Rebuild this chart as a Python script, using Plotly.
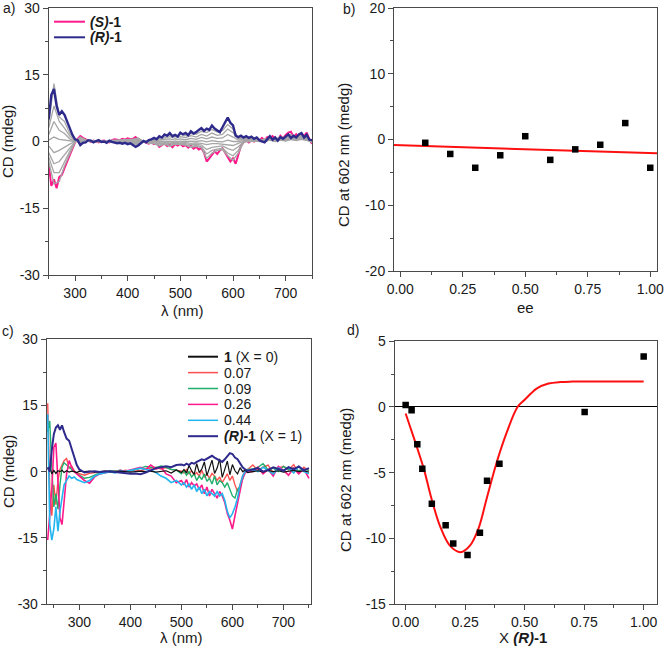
import plotly.graph_objects as go

# ---------------- DATA ----------------
# Panel a: CD spectra of (S)-1, (R)-1 and intermediate ee mixtures (grey)
wl_a = list(range(250, 755, 5))
cd_S = [-5.0, -10.0, -8.5, -10.5, -8.0, -7.5, -6.0, -4.5, -3.0, -1.5,
        -0.2, 0.6, 1.2, 0.8, 0.5, 0.3, -0.1, 0.2, 0.0, -0.2,
        0.1, 0.2, 0.0, -0.2, 0.3, 0.5, 0.4, 0.3, 0.6, 0.4,
        0.7, 0.5, 0.6, 1.0, 0.4, 0.2, 0.0, -0.3, -0.5, -0.2,
        -0.6, -0.4, -1.2, -0.8, -0.5, -1.0, -0.7, -1.3, -0.6, -0.9,
        -0.5, -1.1, -0.8, -1.4, -0.9, -1.6, -1.2, -1.8, -1.5, -2.5,
        -4.5, -3.8, -3.0, -2.2, -2.8, -2.0, -1.5, -2.6, -3.5, -4.5,
        -3.8, -5.0, -3.0, -1.0, -0.2, 0.3, -0.2, 0.3, 0.0, 0.5,
        0.2, 0.8, 0.3, 1.0, 0.5, 1.2, 0.8, 0.3, 1.3, 0.7,
        1.5, 2.0, 2.2, 1.0, 1.6, 0.8, 1.8, 1.2, 2.0, 0.5,
        -0.5]
cd_R = [5.0, 10.5, 11.8, 8.0, 6.0, 6.8, 6.0, 4.5, 3.0, 1.5,
        0.5, 0.3, -0.8, -0.3, -0.2, 0.3, 0.2, -0.2, 0.1, 0.3,
        -0.1, 0.0, -0.3, 0.2, -0.1, -0.2, -0.4, -0.3, -0.5, -0.3,
        -0.6, -0.4, -0.8, -1.2, -0.9, -0.5, 0.1, -0.2, 0.3, 0.5,
        0.8, 0.5, 1.2, 0.9, 1.6, 1.3, 1.9, 1.2, 1.5, 1.1,
        2.0, 1.6, 1.9, 1.4, 2.3, 1.8, 2.1, 2.6, 3.0, 2.4,
        2.9, 2.6, 3.6, 2.9, 2.4, 2.1, 3.2, 4.5, 5.4, 4.2,
        3.6, 1.3, 1.0, 1.3, 0.9, 1.2, 0.8, 1.1, 0.6, 0.9,
        0.3, 0.0, -0.2, 0.5, 1.2, 0.4, 0.9, 0.2, 1.0, 0.6,
        1.1, 1.6, 0.8, 1.3, 0.9, 1.6, 1.9, 0.9, 1.5, 0.4,
        0.3]

wl_grey = list(range(250, 760, 10))
grey_1 = [4.0, 13.0, 5.5, 4.5, 1.8, 0.3, -0.5, 0.0, 0.2, 0.1,
          0.0, -0.2, 0.1, -0.1, -0.3, -0.3, -0.5, -0.7, -0.1, 0.2,
          0.5, 1.0, 1.2, 1.5, 1.1, 1.6, 1.4, 1.8, 1.6, 2.3,
          2.0, 2.7, 2.1, 2.5, 3.8, 2.8, 0.8, 1.0, 0.6, 0.8,
          0.4, 0.1, 0.8, 0.3, 1.0, 0.5, 1.2, 0.8, 1.5, 0.7,
          0.3]
grey_2 = [3.0, 8.0, 4.5, 3.0, 1.2, 0.2, -0.3, 0.1, 0.2, 0.0,
          0.1, -0.1, 0.0, -0.1, -0.2, -0.2, -0.3, -0.5, 0.0, 0.1,
          0.4, 0.7, 0.8, 1.1, 0.7, 1.1, 0.9, 1.3, 1.0, 1.6,
          1.2, 1.9, 1.4, 1.6, 2.8, 2.0, 0.6, 0.8, 0.4, 0.6,
          0.2, 0.0, 0.6, 0.2, 0.8, 0.4, 1.0, 0.6, 1.2, 0.5,
          0.2]
grey_3 = [1.5, 4.5, 2.5, 1.8, 0.6, 0.1, -0.1, 0.1, 0.1, 0.0,
          0.0, -0.1, 0.1, 0.0, -0.1, -0.1, -0.2, -0.2, 0.0, 0.0,
          0.2, 0.3, 0.5, 0.6, 0.3, 0.6, 0.4, 0.7, 0.5, 0.9,
          0.6, 1.0, 0.7, 0.8, 1.6, 1.0, 0.3, 0.5, 0.2, 0.4,
          0.1, 0.0, 0.4, 0.1, 0.5, 0.2, 0.7, 0.4, 0.8, 0.3,
          0.1]
grey_4 = [0.3, 1.0, 0.5, 0.3, 0.1, 0.0, 0.0, 0.1, 0.0, 0.0,
          0.1, 0.0, 0.1, 0.0, 0.0, 0.0, 0.0, 0.0, 0.0, 0.0,
          0.0, 0.0, 0.1, 0.1, -0.1, 0.1, 0.0, 0.1, 0.0, 0.2,
          -0.1, 0.2, 0.0, -0.1, 0.3, 0.0, 0.0, 0.2, 0.0, 0.2,
          0.0, 0.0, 0.3, 0.0, 0.3, 0.1, 0.5, 0.2, 0.5, 0.2,
          0.0]
grey_5 = [-1.0, -2.5, -2.0, -1.2, -0.6, 0.0, 0.2, 0.1, 0.0, 0.0,
          0.0, 0.0, 0.1, 0.1, 0.1, 0.1, 0.1, 0.2, 0.0, -0.1,
          -0.1, -0.2, -0.1, -0.3, -0.2, -0.3, -0.2, -0.4, -0.3, -0.4,
          -0.7, -0.5, -0.5, -0.6, -0.7, -0.9, -0.4, 0.0, 0.0, 0.1,
          0.1, 0.2, 0.3, 0.1, 0.4, 0.2, 0.5, 0.3, 0.6, 0.3,
          0.0]
grey_6 = [-2.5, -5.0, -4.5, -3.0, -1.4, 0.0, 0.4, 0.2, 0.1, 0.0,
          0.0, 0.0, 0.1, 0.2, 0.2, 0.2, 0.3, 0.4, 0.0, -0.2,
          -0.3, -0.5, -0.3, -0.5, -0.4, -0.4, -0.5, -0.7, -0.6, -0.8,
          -1.8, -1.3, -1.2, -1.0, -1.6, -2.0, -1.2, -0.1, 0.1, 0.2,
          0.1, 0.3, 0.4, 0.3, 0.6, 0.4, 0.8, 0.5, 0.9, 0.4,
          -0.1]
grey_7 = [-3.5, -7.0, -7.0, -4.5, -2.2, -0.1, 0.7, 0.3, 0.0, 0.1,
          0.0, 0.1, 0.2, 0.3, 0.3, 0.3, 0.4, 0.6, 0.0, -0.3,
          -0.4, -0.8, -0.4, -0.9, -0.5, -0.5, -0.7, -1.1, -0.9, -1.2,
          -2.8, -2.0, -1.7, -1.5, -2.6, -3.2, -2.0, -0.1, 0.2, 0.3,
          0.1, 0.5, 0.6, 0.4, 0.9, 0.6, 1.1, 0.6, 1.2, 0.5,
          -0.2]
grey_8 = [-4.5, -9.5, -9.0, -5.5, -2.8, -0.1, 1.0, 0.4, 0.0, 0.1,
          0.1, 0.1, 0.3, 0.3, 0.4, 0.4, 0.5, 0.8, 0.0, -0.4,
          -0.5, -1.0, -0.6, -1.1, -0.6, -0.7, -0.8, -1.3, -1.1, -1.4,
          -3.8, -2.6, -2.0, -1.8, -3.2, -4.2, -2.6, -0.2, 0.2, 0.4,
          0.2, 0.6, 0.8, 0.5, 1.1, 0.8, 1.6, 0.8, 1.5, 0.8,
          -0.3]
grey_series = [grey_1, grey_2, grey_3, grey_4, grey_5, grey_6, grey_7, grey_8]

# Panel b: CD at 602 nm vs ee
ee_vals = [0.1, 0.2, 0.3, 0.4, 0.5, 0.6, 0.7, 0.8, 0.9, 1.0]
cd602_ee = [-0.5, -2.2, -4.3, -2.4, 0.5, -3.1, -1.5, -0.8, 2.5, -4.3]
fit_b_x = [-0.025, 1.027]
fit_b_y = [-0.85, -2.1]

# Panel c: CD spectra for mole fractions of (R)-1
wl_c = ([238, 242, 246, 250, 254, 258, 262, 266, 270]
        + [275, 280, 285, 290, 295, 300]
        + list(range(310, 510, 10))
        + list(range(505, 635, 5))
        + list(range(640, 760, 10)))
cd_x0 = ([0.5, 1.0, -0.5, 0.3, -0.4, 0.2, 0.0, 0.3, -0.2]
         + [0.2, -0.1, 0.1, 0.0, -0.2, 0.1]
         + [0.0, 0.1, -0.1, 0.0, 0.1, 0.0, -0.1, 0.1, 0.0, -0.1, 0.0, 0.1, 0.0, 0.1, -0.1, 0.0, 0.2, -0.3, 0.4, -0.2]
         + [0.5, -0.3, 1.4, 0.2, -0.6, 1.8, -0.2, 0.6, 2.2, -0.9, 1.0, 2.6, -0.4, 0.8, 2.9, -1.3, 0.5, 2.4, -0.7, 1.6, 0.2, -0.5, 0.9, 0.0, 0.3, -0.2]
         + [0.0, 0.2, -0.1, 0.3, 0.0, 0.2, -0.1, 0.1, 0.3, 0.0, 0.2, -0.1])
cd_x007 = ([15.5, -4.0, -10.0, -3.0, -7.5, -2.0, 0.5, 1.5, 2.5]
           + [3.0, 0.8, 1.2, 0.2, -0.3, -0.5]
           + [-0.8, -0.4, -0.2, 0.0, 0.1, -0.1, 0.2, 0.0, 0.3, 0.1, 0.4, 0.2, 0.6, 0.8, 1.0, 0.6, 0.9, 0.5, 0.3, 0.1]
           + [-0.3, 0.5, -0.5, 0.2, -0.8, -0.2, -1.0, 0.3, -1.2, -0.5, -1.5, -0.4, -1.0, -2.0, -1.2, -2.5, -1.5, -0.5, -2.0, -1.0, -3.0, -4.5, -3.0, -1.0, 0.3, 0.5]
           + [1.5, 0.3, 1.0, 1.5, -0.3, 0.8, 1.2, 0.4, 1.6, -0.2, 1.0, 0.2])
cd_x009 = ([9.0, 11.5, 1.0, -8.0, -5.0, -8.5, -3.0, 1.0, 2.0]
           + [1.5, 0.8, 0.5, 0.0, -0.3, -0.8]
           + [-1.5, -1.3, -0.8, -0.3, 0.0, 0.2, 0.1, 0.3, 0.0, 0.2, 0.5, 0.8, 1.2, 1.0, 0.9, 1.3, 1.0, 0.5, 0.4, -0.5]
           + [0.2, -0.8, 0.0, -1.2, -0.5, -2.0, -1.0, -1.8, -0.5, -2.2, -1.5, -2.8, -1.0, -3.0, -2.0, -2.5, -3.5, -2.5, -4.0, -5.5, -6.0, -4.0, -3.5, -1.5, 0.0, 0.5]
           + [0.6, 1.0, 1.8, 0.4, 0.8, 0.0, 1.2, 0.5, 0.9, 0.2, 0.6, 0.3])
cd_x026 = ([-15.5, -10.0, -4.0, 5.5, 6.5, -2.0, -10.5, -12.0, -7.0]
           + [-0.5, 2.5, 1.0, 0.0, -0.5, -1.0]
           + [-2.0, -2.6, -1.2, -0.5, -0.3, 0.0, -0.2, 0.3, 0.1, 0.4, 0.8, 1.0, 0.5, 1.5, 0.6, 1.0, -0.5, -1.0, -2.5, -2.0]
           + [-3.0, -1.8, -3.5, -2.5, -3.2, -2.8, -4.0, -3.0, -5.0, -3.5, -5.5, -4.0, -5.0, -6.0, -4.5, -5.5, -7.0, -9.5, -11.0, -13.0, -10.0, -7.0, -4.0, -1.5, -0.3, 0.2]
           + [0.0, 1.0, -0.5, 0.5, -1.0, 1.2, 0.3, -0.8, 0.8, -0.5, 0.6, -1.5])
cd_x044 = ([13.0, -12.0, -15.5, -13.0, -8.0, -13.5, -9.0, -6.0, -3.0]
           + [-2.0, -1.0, -1.5, -1.2, -1.8, -2.0]
           + [-2.5, -2.0, -1.0, -0.5, -0.2, 0.0, -0.3, 0.2, 0.0, 0.3, 0.5, 0.8, 0.5, 0.3, -0.2, -1.0, -1.5, -2.5, -2.0, -3.0]
           + [-2.5, -3.5, -2.8, -4.0, -3.0, -4.5, -3.5, -5.0, -4.0, -5.5, -4.5, -5.0, -5.5, -4.5, -5.5, -5.0, -6.5, -9.0, -10.5, -9.5, -8.0, -6.0, -3.0, -1.0, 0.0, 0.3]
           + [0.5, 0.0, 1.0, 0.3, -0.5, 0.8, 0.2, 1.0, -0.3, 1.2, 0.0, -0.5])
cd_x1 = ([1.0, 0.0, 5.0, 8.5, 10.0, 10.5, 9.5, 10.5, 9.0]
         + [7.5, 7.0, 5.0, 3.0, 1.5, 0.5]
         + [-0.2, 0.0, 0.1, -0.1, 0.0, 0.1, -0.1, -0.2, -0.3, -0.5, -0.4, -0.6, -0.2, 0.3, 0.8, 1.0, 1.2, 1.0, 1.5, 1.6]
         + [1.4, 1.8, 1.5, 2.0, 1.8, 2.2, 2.5, 2.8, 2.6, 3.0, 3.3, 3.6, 3.2, 2.8, 2.5, 2.2, 2.8, 3.5, 4.2, 4.0, 3.2, 2.8, 1.8, 1.0, 0.5, 0.2]
         + [0.5, 0.8, 0.0, 0.4, 1.0, 0.6, 0.2, 1.0, 0.5, 1.2, 0.3, 0.8])

# Panel d: CD at 602 nm vs mole fraction of (R)-1
x_frac = [0.0, 0.025, 0.049, 0.07, 0.11, 0.168, 0.20, 0.26, 0.312, 0.342, 0.394, 0.752, 1.0]
cd602_x = [0.15, -0.25, -2.84, -4.7, -7.37, -9.0, -10.4, -11.27, -9.57, -5.62, -4.33, -0.38, 3.85]
fit_d_x = [0.0, 0.018, 0.046, 0.077, 0.109, 0.144, 0.186, 0.231, 0.27, 0.305, 0.34, 0.382,
           0.424, 0.47, 0.5, 0.525, 0.55, 0.6, 0.65, 0.7, 0.8, 0.9, 1.0]
fit_d_y = [-0.5, -1.47, -2.98, -4.75, -7.0, -9.05, -10.56, -11.06, -10.56, -9.3, -7.0, -4.24,
           -1.97, 0.0, 0.55, 1.0, 1.4, 1.78, 1.9, 1.93, 1.93, 1.93, 1.93]

# tick labels
ticks_cd = [-30, -15, 0, 15, 30]
ticks_cd_text = ["-30", "-15", "0", "15", "30"]
ticks_wl = [300, 400, 500, 600, 700]
ticks_b_y = [-20, -10, 0, 10, 20]
ticks_b_y_text = ["-20", "-10", "0", "10", "20"]
ticks_d_y = [-15, -10, -5, 0, 5]
ticks_d_y_text = ["-15", "-10", "-5", "0", "5"]
ticks_frac = [0.0, 0.25, 0.5, 0.75, 1.0]
ticks_frac_text = ["0.00", "0.25", "0.50", "0.75", "1.00"]

legend_a = ["<b><i>(S)</i>-1</b>", "<b><i>(R)</i>-1</b>"]
legend_c = ["<b>1</b> (X = 0)", "0.07", "0.09", "0.26", "0.44", "<b><i>(R)</i>-1</b> (X = 1)"]

# ---------------- STYLE ----------------
W, H = 666, 648
FONT = "Liberation Sans, Arial, sans-serif"
PINK = "#FF1A8C"
NAVY = "#2E2A8C"
GREY = "#A6A6A6"
RED_L = "#FF5050"
GREEN = "#1FAF6B"
CYAN = "#22B5F0"
AXC = "#4a4a4a"
TXT = "#1a1a1a"


def px(x):
    return x / W


def py(y):
    return 1 - y / H


for s in [cd_S, cd_R]:
    assert len(s) == len(wl_a)
for s in grey_series:
    assert len(s) == len(wl_grey)
for s in [cd_x0, cd_x007, cd_x009, cd_x026, cd_x044, cd_x1]:
    assert len(s) == len(wl_c), len(s)

fig = go.Figure()

# Panel a
fig.add_trace(go.Scatter(x=wl_a, y=cd_S, mode="lines", line=dict(color=PINK, width=2),
                         xaxis="x", yaxis="y", showlegend=False))
for g in grey_series:
    fig.add_trace(go.Scatter(x=wl_grey, y=g, mode="lines", line=dict(color=GREY, width=1.3),
                             xaxis="x", yaxis="y", showlegend=False))
fig.add_trace(go.Scatter(x=wl_a, y=cd_R, mode="lines", line=dict(color=NAVY, width=2.4),
                         xaxis="x", yaxis="y", showlegend=False))

# Panel b
fig.add_trace(go.Scatter(x=fit_b_x, y=fit_b_y, mode="lines", line=dict(color="#FF1010", width=2),
                         xaxis="x2", yaxis="y2", showlegend=False))
fig.add_trace(go.Scatter(x=ee_vals, y=cd602_ee, mode="markers",
                         marker=dict(symbol="square", size=6.5, color="black"),
                         xaxis="x2", yaxis="y2", showlegend=False))

# Panel c
c_series = [(cd_x007, RED_L, 1.4), (cd_x009, GREEN, 1.4), (cd_x026, PINK, 1.6),
            (cd_x044, CYAN, 1.6), (cd_x0, "#111111", 1.2), (cd_x1, NAVY, 2.0)]
for ys, col, w in c_series:
    fig.add_trace(go.Scatter(x=wl_c, y=ys, mode="lines", line=dict(color=col, width=w),
                             xaxis="x3", yaxis="y3", showlegend=False))

# Panel d
fig.add_trace(go.Scatter(x=fit_d_x, y=fit_d_y, mode="lines", line=dict(color="#FF1010", width=2, shape="spline"),
                         xaxis="x4", yaxis="y4", showlegend=False))
fig.add_trace(go.Scatter(x=x_frac, y=cd602_x, mode="markers",
                         marker=dict(symbol="square", size=6.5, color="black"),
                         xaxis="x4", yaxis="y4", showlegend=False))


def axis(domain, rng, tickvals, ticktext, minor_tick0, minor_dtick, anchor, zeroline=False):
    return dict(domain=domain, range=rng, anchor=anchor, tickmode="array",
                tickvals=tickvals, ticktext=ticktext, ticks="outside", ticklen=5,
                tickwidth=1, tickcolor=AXC, showline=True, linecolor=AXC, linewidth=1,
                mirror=True, showgrid=False, zeroline=zeroline, zerolinecolor="black",
                zerolinewidth=1, automargin=False, ticklabeloverflow="allow",
                tickfont=dict(family=FONT, size=14, color=TXT),
                minor=dict(tick0=minor_tick0, dtick=minor_dtick, ticks="outside",
                           ticklen=3, tickcolor=AXC, showgrid=False))


wl_text = [str(v) for v in ticks_wl]
fig.update_layout(
    width=W, height=H, margin=dict(l=0, r=0, t=0, b=0),
    paper_bgcolor="white", plot_bgcolor="white", showlegend=False,
    xaxis=axis([px(48.7), px(312)], [250, 750], ticks_wl, wl_text, 250, 50, "y"),
    yaxis=axis([py(275), py(8)], [-30, 30], ticks_cd, ticks_cd_text, -30, 7.5, "x"),
    xaxis2=axis([px(394), px(657)], [-0.025, 1.027], ticks_frac, ticks_frac_text, 0, 0.125, "y2"),
    yaxis2=axis([py(271), py(8)], [-20, 20], ticks_b_y, ticks_b_y_text, -20, 5, "x2"),
    xaxis3=axis([px(46.7), px(311)], [236, 754], ticks_wl, wl_text, 250, 50, "y3"),
    yaxis3=axis([py(604), py(339.3)], [-30, 30], ticks_cd, ticks_cd_text, -30, 7.5, "x3"),
    xaxis4=axis([px(394.7), px(657)], [-0.046, 1.056], ticks_frac, ticks_frac_text, 0, 0.125, "y4"),
    yaxis4=axis([py(604), py(341.3)], [-15, 5], ticks_d_y, ticks_d_y_text, -15, 2.5, "x4", zeroline=True),
)

annotations = []


def txt(x, y, text, size=14, angle=0, xanchor="center", yanchor="middle"):
    annotations.append(dict(x=px(x), y=py(y), xref="paper", yref="paper", text=text,
                            showarrow=False, textangle=angle, xanchor=xanchor, yanchor=yanchor,
                            font=dict(family=FONT, size=size, color=TXT)))


# panel labels
txt(1, 8, "a)", xanchor="left")
txt(341, 9, "b)", xanchor="left")
txt(0, 331, "c)", xanchor="left")
txt(345, 330, "d)", xanchor="left")

# axis titles
txt(8, 142, "CD (mdeg)", size=15, angle=-90)
txt(182, 310, "λ (nm)", size=15)
txt(343, 155, "CD at 602 nm (medg)", size=15, angle=-90)
txt(525.5, 307.5, "ee", size=15)
txt(8, 472, "CD (mdeg)", size=15, angle=-90)
txt(181, 637, "λ (nm)", size=15)
txt(345, 480, "CD at 602 nm (medg)", size=15, angle=-90)
txt(523, 637, "X <b><i>(R)</i>-1</b>", size=15)

shapes = []
# legend a
for i, (lab, col) in enumerate(zip(legend_a, [PINK, NAVY])):
    yy = 21.7 + 15.6 * i
    shapes.append(dict(type="line", xref="paper", yref="paper", x0=px(54), x1=px(85),
                       y0=py(yy), y1=py(yy), line=dict(color=col, width=2)))
    txt(88, yy, lab, xanchor="left")

# legend c
c_cols = ["#111111", RED_L, GREEN, PINK, CYAN, NAVY]
for i, (lab, col) in enumerate(zip(legend_c, c_cols)):
    yy = 356.7 + 15.9 * i
    shapes.append(dict(type="line", xref="paper", yref="paper", x0=px(188), x1=px(218),
                       y0=py(yy), y1=py(yy), line=dict(color=col, width=2 if i in (0, 5) else 1.5)))
    txt(221.5, yy, lab, xanchor="left")

fig.update_layout(annotations=annotations, shapes=shapes)
fig.write_html("out.html", config={"displayModeBar": False},
               post_script="document.body.style.margin='0';document.body.style.overflow='hidden';")
